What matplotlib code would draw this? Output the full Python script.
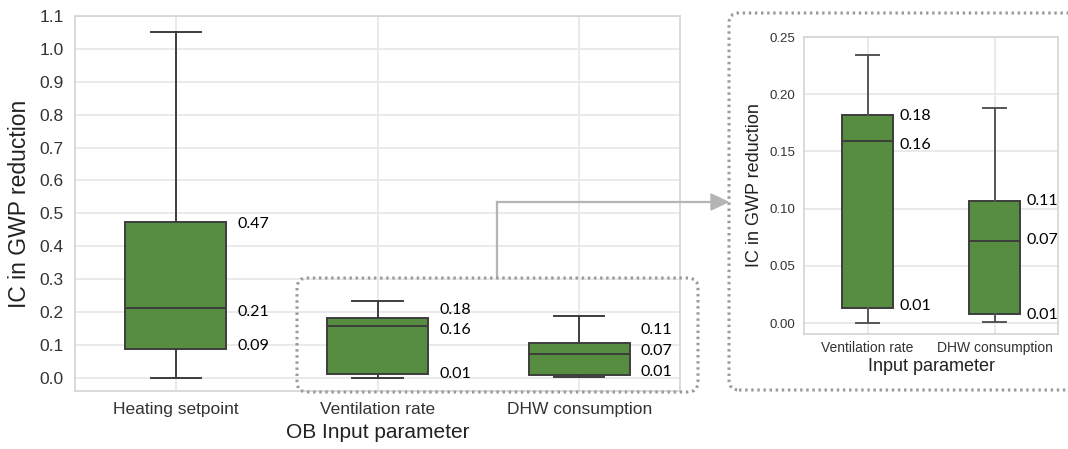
import matplotlib.pyplot as plt
from matplotlib.patches import FancyBboxPatch
from matplotlib.lines import Line2D

# box statistics: whislo, q1, med, q3, whishi
categories = ["Heating setpoint", "Ventilation rate", "DHW consumption"]
whislo = [0.001, 0.0005, 0.0014]
q1 = [0.089, 0.013, 0.008]
med = [0.213, 0.159, 0.072]
q3 = [0.474, 0.182, 0.107]
whishi = [1.05, 0.234, 0.188]

# zoomed panel shows the last two categories
zoom_idx = [1, 2]

left_yticks = [0.0, 0.1, 0.2, 0.3, 0.4, 0.5, 0.6, 0.7, 0.8, 0.9, 1.0, 1.1]
right_yticks = [0.0, 0.05, 0.10, 0.15, 0.20, 0.25]

# label nudges (points, vertical) for q3 / med / q1 labels so they don't collide
left_nudge = [[-1.5, -3, 2], [6, -3.5, 0], [9, 2.5, 2]]
right_nudge = [[-1, -2.5, 2], [0, 0.5, -1]]

GREEN = "#578d40"
EDGE = "#3d3d3d"
W, H = 1068, 449

plt.rcParams["font.family"] = ["Liberation Sans", "DejaVu Sans"]
fig = plt.figure(figsize=(W / 100, H / 100), dpi=100)


def px_axes(x0, y0, x1, y1):
    return fig.add_axes([x0 / W, 1 - y1 / H, (x1 - x0) / W, (y1 - y0) / H])


def style(ax):
    ax.set_facecolor("white")
    for s in ax.spines.values():
        s.set_color("#d4d4d4")
        s.set_linewidth(1.2)
    ax.grid(True, color="#e8e8e8", linewidth=1.3, zorder=0)
    ax.set_axisbelow(True)
    ax.tick_params(length=0, colors="#333333")


def draw(ax, idx, width, cap, whisk_col, nudge, dx, fs):
    stats = []
    for i in idx:
        stats.append(dict(whislo=whislo[i], q1=q1[i], med=med[i], q3=q3[i],
                          whishi=whishi[i], fliers=[]))
    pos = list(range(len(idx)))
    ax.bxp(stats, positions=pos, widths=width, capwidths=cap, patch_artist=True,
           showfliers=False,
           boxprops=dict(facecolor=GREEN, edgecolor=EDGE, linewidth=1.4),
           medianprops=dict(color=EDGE, linewidth=1.4),
           whiskerprops=dict(color=whisk_col, linewidth=1.4),
           capprops=dict(color=whisk_col, linewidth=1.4))
    for p, i, nd in zip(pos, idx, nudge):
        for v, dy in zip([q3[i], med[i], q1[i]], nd):
            ax.annotate(f"{v:.2f}", (p + width / 2, v), xytext=(dx, dy),
                        textcoords="offset points", va="center", ha="left",
                        fontsize=fs, family=["Lato", "DejaVu Sans"],
                        color="black")
    ax.set_xticks(pos)
    ax.set_xticklabels([categories[i] for i in idx])
    ax.set_xlim(-0.5, len(idx) - 0.5)


# left panel
ax1 = px_axes(75, 16, 680, 391)
style(ax1)
draw(ax1, [0, 1, 2], 0.5, 0.25, EDGE, left_nudge, 8, 11.5)
ax1.set_ylim(-0.04, 1.1)
ax1.set_yticks(left_yticks)
ax1.set_yticklabels([f"{t:.1f}" for t in left_yticks])
ax1.tick_params(axis="y", labelsize=12.5, pad=8)
ax1.tick_params(axis="x", labelsize=12.5, pad=8)
ax1.set_ylabel("IC in GWP reduction", fontsize=16.5, color="#222222", labelpad=6)
ax1.set_xlabel("OB Input parameter", fontsize=15, color="#222222", labelpad=4)

# zoomed panel
ax2 = px_axes(804, 37, 1058, 334)
style(ax2)
draw(ax2, zoom_idx, 0.4, 0.18, "#555555", right_nudge, 5, 11.5)
ax2.set_ylim(-0.0094, 0.25)
ax2.set_yticks(right_yticks)
ax2.set_yticklabels([f"{t:.2f}" for t in right_yticks])
ax2.tick_params(axis="y", labelsize=9.5, pad=6)
ax2.tick_params(axis="x", labelsize=10, pad=5)
ax2.set_ylabel("IC in GWP reduction", fontsize=13, color="#222222", labelpad=5)
ax2.set_xlabel("Input parameter", fontsize=13, color="#222222", labelpad=2)

# dotted call-out frames and connector arrow (pixel layout, inches transform)
tr = fig.dpi_scale_trans


def frame(x0, y0, x1, y1):
    p = FancyBboxPatch((x0 / 100, (H - y1) / 100), (x1 - x0) / 100, (y1 - y0) / 100,
                       boxstyle="round,pad=0,rounding_size=0.1", transform=tr,
                       fill=False, edgecolor="#9a9a9a", linewidth=2.2,
                       linestyle=(0, (0.8, 1.2)), zorder=5)
    fig.add_artist(p)


frame(297, 278, 698, 392)
frame(729, 13, 1090, 390)

fig.add_artist(Line2D([497 / 100, 497 / 100], [(H - 278) / 100, (H - 202) / 100],
                      transform=tr, color="#b5b5b5", linewidth=1.6))
fig.add_artist(Line2D([497 / 100, 714 / 100], [(H - 202) / 100, (H - 202) / 100],
                      transform=tr, color="#b5b5b5", linewidth=1.6))
fig.add_artist(plt.Polygon([[711 / 100, (H - 194) / 100], [728 / 100, (H - 202) / 100],
                            [711 / 100, (H - 210) / 100]], closed=True,
                           transform=tr, color="#b5b5b5"))

fig.savefig("out.png", dpi=100, facecolor="white")
